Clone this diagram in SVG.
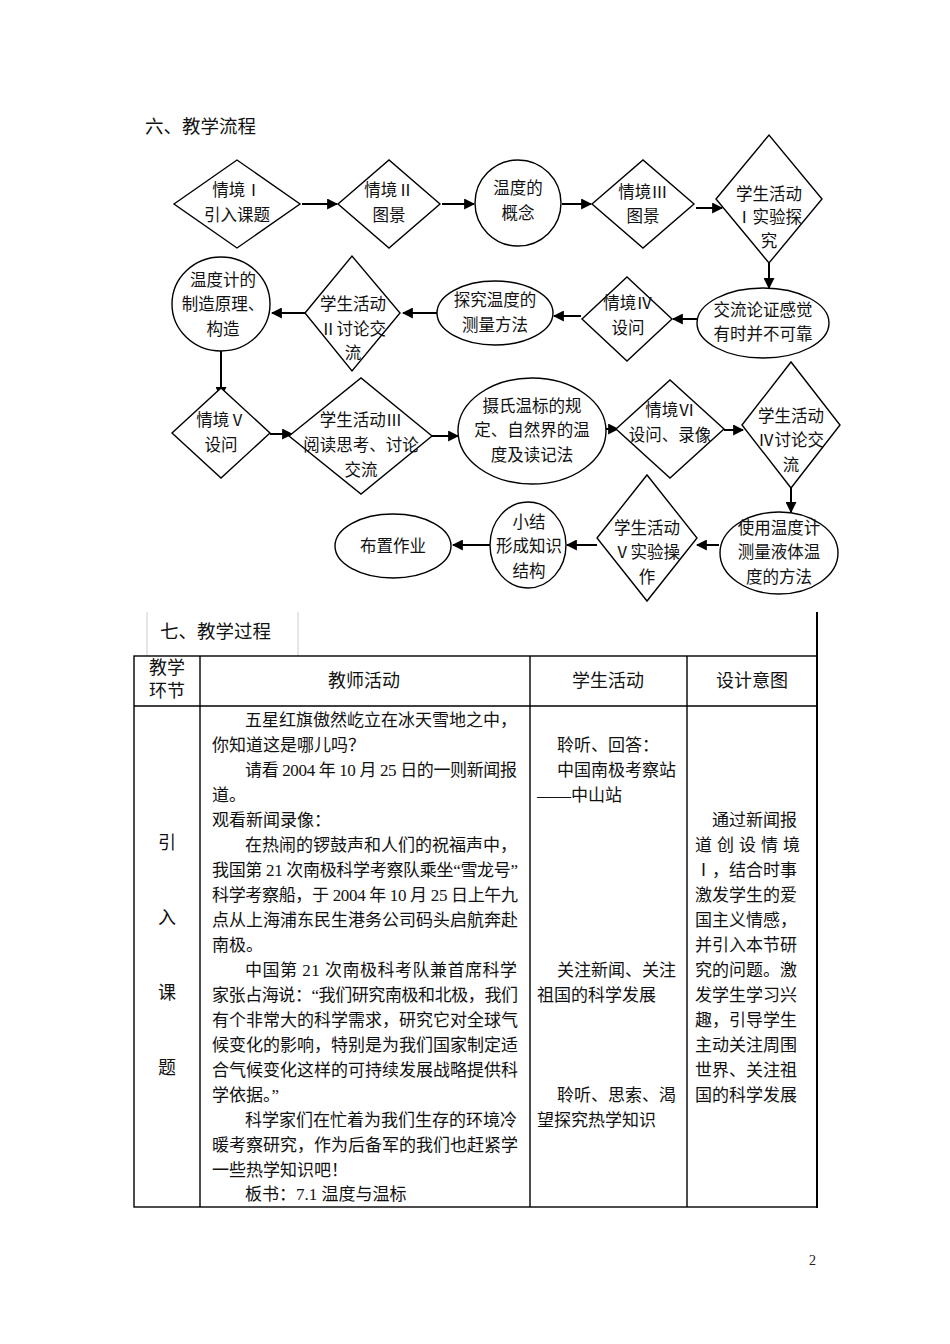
<svg xmlns="http://www.w3.org/2000/svg" width="950" height="1344" viewBox="0 0 950 1344">
<defs>
<style>
.sh{fill:#fff;stroke:#000;stroke-width:1.4}
.t{font-family:"Liberation Serif","Noto Sans CJK SC",serif;font-size:16.5px;fill:#111;text-anchor:middle}
.b{font-family:"Liberation Serif","Noto Sans CJK SC",serif;font-size:17px;fill:#111}
.h{font-family:"Liberation Serif","Noto Sans CJK SC",serif;font-size:18.5px;fill:#111}
.bc{font-family:"Liberation Serif","Noto Sans CJK SC",serif;font-size:17px;fill:#111;text-anchor:middle}
.hc{font-family:"Liberation Serif","Noto Sans CJK SC",serif;font-size:18px;fill:#111;text-anchor:middle}
.c{stroke:#000;stroke-width:2;fill:none;marker-end:url(#ah)}
.tl{stroke:#000;stroke-width:1.4;fill:none}
</style>
<marker id="ah" viewBox="0 0 10 10" refX="9" refY="5" markerWidth="5.5" markerHeight="5.5" orient="auto" markerUnits="strokeWidth">
<path d="M0,0 L10,5 L0,10 z" fill="#000"/>
</marker>
</defs>
<rect width="950" height="1344" fill="#fff"/>
<text class="h" x="145" y="133">六、教学流程</text>

<g id="connectors">
<line class="c" x1="302" y1="204" x2="337" y2="204"/>
<line class="c" x1="442" y1="204" x2="474" y2="204"/>
<line class="c" x1="562" y1="204" x2="591" y2="204"/>
<line class="c" x1="696" y1="208" x2="722" y2="208"/>
<line class="c" x1="769" y1="263" x2="769" y2="288"/>
<line class="c" x1="697" y1="319" x2="673" y2="319"/>
<line class="c" x1="581" y1="316" x2="554" y2="316"/>
<line class="c" x1="437" y1="313" x2="403" y2="313"/>
<line class="c" x1="305" y1="313" x2="272" y2="313"/>
<line class="c" x1="221" y1="351" x2="221" y2="397"/>
<line class="c" x1="270" y1="434" x2="292" y2="434"/>
<line class="c" x1="432" y1="436" x2="458" y2="436"/>
<line class="c" x1="606" y1="429" x2="618" y2="429"/>
<line class="c" x1="724" y1="430" x2="743" y2="430"/>
<line class="c" x1="791" y1="488" x2="791" y2="512"/>
<line class="c" x1="719" y1="545" x2="697" y2="545"/>
<line class="c" x1="597" y1="545" x2="567" y2="545"/>
<line class="c" x1="490" y1="545" x2="453" y2="545"/>
</g>

<g id="n1"><polygon class="sh" points="174,204 237,160 300,204 237,248"/><text class="t" x="237" y="196">情境Ⅰ</text><text class="t" x="237" y="221">引入课题</text></g>
<g id="n2"><polygon class="sh" points="338,204 389,160 440,204 389,248"/><text class="t" x="389" y="196">情境Ⅱ</text><text class="t" x="389" y="221">图景</text></g>
<g id="n3"><circle class="sh" cx="518" cy="203" r="43"/><text class="t" x="518" y="194">温度的</text><text class="t" x="518" y="219">概念</text></g>
<g id="n4"><polygon class="sh" points="592,204 643,160 694,204 643,248"/><text class="t" x="643" y="198">情境Ⅲ</text><text class="t" x="643" y="222">图景</text></g>
<g id="n5"><polygon class="sh" points="716,199 769,135 822,199 769,263"/><text class="t" x="769" y="200">学生活动</text><text class="t" x="769" y="223">Ⅰ实验探</text><text class="t" x="769" y="247">究</text></g>

<g id="n6"><ellipse class="sh" cx="763" cy="323" rx="66" ry="35"/><text class="t" x="763" y="316">交流论证感觉</text><text class="t" x="763" y="340">有时并不可靠</text></g>
<g id="n7"><polygon class="sh" points="582,319 627,277 672,319 627,361"/><text class="t" x="628" y="309">情境Ⅳ</text><text class="t" x="628" y="334">设问</text></g>
<g id="n8"><ellipse class="sh" cx="495" cy="313" rx="58" ry="32"/><text class="t" x="495" y="306">探究温度的</text><text class="t" x="495" y="331">测量方法</text></g>
<g id="n9"><polygon class="sh" points="305,313 352,256 400,313 352,371"/><text class="t" x="353" y="310">学生活动</text><text class="t" x="353" y="335">Ⅱ讨论交</text><text class="t" x="353" y="359">流</text></g>
<g id="n10"><ellipse class="sh" cx="221" cy="304" rx="49" ry="47"/><text class="t" x="223" y="286">温度计的</text><text class="t" x="223" y="310">制造原理、</text><text class="t" x="223" y="335">构造</text></g>

<g id="n11"><polygon class="sh" points="172,433 221,388 270,433 221,478"/><text class="t" x="221" y="426">情境Ⅴ</text><text class="t" x="221" y="451">设问</text></g>
<g id="n12"><polygon class="sh" points="289,436 361,378 432,436 361,494"/><text class="t" x="361" y="426">学生活动Ⅲ</text><text class="t" x="361" y="451">阅读思考、讨论</text><text class="t" x="361" y="476">交流</text></g>
<g id="n13"><ellipse class="sh" cx="532" cy="431" rx="74" ry="53"/><text class="t" x="532" y="412">摄氏温标的规</text><text class="t" x="532" y="436">定、自然界的温</text><text class="t" x="532" y="461">度及读记法</text></g>
<g id="n14"><polygon class="sh" points="616,429 670,380 724,429 670,478"/><text class="t" x="670" y="416">情境Ⅵ</text><text class="t" x="670" y="441">设问、录像</text></g>
<g id="n15"><polygon class="sh" points="742,425 791,362 840,425 791,488"/><text class="t" x="791" y="422">学生活动</text><text class="t" x="791" y="446">Ⅳ讨论交</text><text class="t" x="791" y="471">流</text></g>

<g id="n16"><ellipse class="sh" cx="779" cy="553" rx="59" ry="41"/><text class="t" x="779" y="534">使用温度计</text><text class="t" x="779" y="558">测量液体温</text><text class="t" x="779" y="583">度的方法</text></g>
<g id="n17"><polygon class="sh" points="597,538 647,475 697,538 647,601"/><text class="t" x="647" y="534">学生活动</text><text class="t" x="647" y="558">Ⅴ实验操</text><text class="t" x="647" y="583">作</text></g>
<g id="n18"><ellipse class="sh" cx="528" cy="545" rx="38" ry="43"/><text class="t" x="529" y="528">小结</text><text class="t" x="529" y="552">形成知识</text><text class="t" x="529" y="577">结构</text></g>
<g id="n19"><ellipse class="sh" cx="393" cy="546" rx="58" ry="32"/><text class="t" x="393" y="552">布置作业</text></g>

<g id="table">
<line x1="147" y1="612" x2="147" y2="656" stroke="#ccc" stroke-width="1"/>
<line x1="298" y1="612" x2="298" y2="656" stroke="#ccc" stroke-width="1"/>
<text class="h" x="160" y="638">七、教学过程</text>
<line x1="817" y1="612" x2="817" y2="1208" stroke="#000" stroke-width="2"/>
<rect class="tl" x="134" y="656" width="683" height="551"/>
<line class="tl" x1="134" y1="706" x2="817" y2="706"/>
<line class="tl" x1="200" y1="656" x2="200" y2="1207"/>
<line class="tl" x1="530" y1="656" x2="530" y2="1207"/>
<line class="tl" x1="687" y1="656" x2="687" y2="1207"/>

<text class="hc" x="167" y="674">教学</text>
<text class="hc" x="167" y="697">环节</text>
<text class="hc" x="364" y="687">教师活动</text>
<text class="hc" x="608" y="687">学生活动</text>
<text class="hc" x="752" y="687">设计意图</text>

<text class="hc" x="167" y="849">引</text>
<text class="hc" x="167" y="924">入</text>
<text class="hc" x="167" y="999">课</text>
<text class="hc" x="167" y="1074">题</text>

<text class="b" x="245" y="726" textLength="272" lengthAdjust="spacing">五星红旗傲然屹立在冰天雪地之中，</text>
<text class="b" x="212" y="751">你知道这是哪儿吗？</text>
<text class="b" x="245" y="776" textLength="272" lengthAdjust="spacing">请看 2004 年 10 月 25 日的一则新闻报</text>
<text class="b" x="212" y="801">道。</text>
<text class="b" x="212" y="826">观看新闻录像：</text>
<text class="b" x="245" y="851" textLength="272" lengthAdjust="spacing">在热闹的锣鼓声和人们的祝福声中，</text>
<text class="b" x="212" y="876" textLength="306" lengthAdjust="spacing">我国第 21 次南极科学考察队乘坐“雪龙号”</text>
<text class="b" x="212" y="901" textLength="306" lengthAdjust="spacing">科学考察船，于 2004 年 10 月 25 日上午九</text>
<text class="b" x="212" y="926" textLength="306" lengthAdjust="spacing">点从上海浦东民生港务公司码头启航奔赴</text>
<text class="b" x="212" y="951">南极。</text>
<text class="b" x="245" y="976" textLength="272" lengthAdjust="spacing">中国第 21 次南极科考队兼首席科学</text>
<text class="b" x="212" y="1001" textLength="306" lengthAdjust="spacing">家张占海说：“我们研究南极和北极，我们</text>
<text class="b" x="212" y="1026" textLength="306" lengthAdjust="spacing">有个非常大的科学需求，研究它对全球气</text>
<text class="b" x="212" y="1051" textLength="306" lengthAdjust="spacing">候变化的影响，特别是为我们国家制定适</text>
<text class="b" x="212" y="1076" textLength="306" lengthAdjust="spacing">合气候变化这样的可持续发展战略提供科</text>
<text class="b" x="212" y="1101">学依据。”</text>
<text class="b" x="245" y="1126" textLength="272" lengthAdjust="spacing">科学家们在忙着为我们生存的环境冷</text>
<text class="b" x="212" y="1151" textLength="306" lengthAdjust="spacing">暖考察研究，作为后备军的我们也赶紧学</text>
<text class="b" x="212" y="1176">一些热学知识吧！</text>
<text class="b" x="245" y="1200">板书：7.1 温度与温标</text>

<text class="b" x="557" y="751">聆听、回答：</text>
<text class="b" x="557" y="776">中国南极考察站</text>
<text class="b" x="537" y="801">——中山站</text>
<text class="b" x="557" y="976">关注新闻、关注</text>
<text class="b" x="537" y="1001">祖国的科学发展</text>
<text class="b" x="557" y="1101">聆听、思索、渴</text>
<text class="b" x="537" y="1126">望探究热学知识</text>

<text class="b" x="712" y="826">通过新闻报</text>
<text class="b" x="695" y="851" textLength="105" lengthAdjust="spacing">道创设情境</text>
<text class="b" x="695" y="876">Ⅰ，结合时事</text>
<text class="b" x="695" y="901">激发学生的爱</text>
<text class="b" x="695" y="926">国主义情感，</text>
<text class="b" x="695" y="951">并引入本节研</text>
<text class="b" x="695" y="976">究的问题。激</text>
<text class="b" x="695" y="1001">发学生学习兴</text>
<text class="b" x="695" y="1026">趣，引导学生</text>
<text class="b" x="695" y="1051">主动关注周围</text>
<text class="b" x="695" y="1076">世界、关注祖</text>
<text class="b" x="695" y="1101">国的科学发展</text>
</g>
<text x="809" y="1265" font-family="Liberation Serif, serif" font-size="14" fill="#222">2</text>
</svg>
